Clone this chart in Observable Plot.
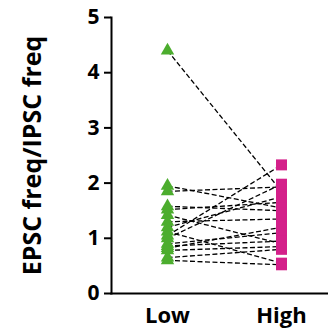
<!DOCTYPE html>
<html>
<head>
<meta charset="utf-8">
<script src="https://cdn.jsdelivr.net/npm/d3@7"></script>
<script src="https://cdn.jsdelivr.net/npm/@observablehq/plot@0.6"></script>
<style>
  html, body { margin: 0; padding: 0; background: #fff; }
  svg { display: block; }
</style>
</head>
<body>
<div id="chart"></div>
<script>
const categories = ["Low", "High"];
const lowValues  = [4.40, 1.95, 1.85, 1.58, 1.52, 1.42, 1.30, 1.20, 1.12, 1.05, 1.00, 0.90, 0.86, 0.82, 0.78, 0.65, 0.60];
const highValues = [1.85, 1.55, 1.93, 1.50, 1.65, 0.90, 1.35, 1.75, 0.55, 2.33, 1.98, 1.10, 0.95, 1.20, 0.85, 0.80, 0.52];
const yTicks = [0, 1, 2, 3, 4, 5];

const pairs = lowValues.map((v, i) => ({low: v, high: highValues[i]}));
const points = [
  ...lowValues.map(v => ({group: "Low", value: v})),
  ...highValues.map(v => ({group: "High", value: v}))
];

const font = "'Open Sans', 'DejaVu Sans', sans-serif";

const chart = Plot.plot({
  width: 328,
  height: 336,
  marginLeft: 111,
  marginRight: 0,
  marginTop: 17,
  marginBottom: 43,
  style: {fontFamily: font, color: "#000", background: "#fff"},
  x: {type: "point", domain: categories, range: [167, 281], padding: 0, label: null},
  y: {domain: [0, 5], label: null},
  marks: [
    Plot.link(pairs, {
      x1: () => "Low", x2: () => "High", y1: "low", y2: "high",
      stroke: "#000", strokeWidth: 1.3, strokeDasharray: "5,2.5"
    }),
    Plot.dot(points.filter(d => d.group === "Low"), {
      x: "group", y: "value", symbol: "triangle", r: 5,
      fill: "#4CAD2E", stroke: "none"
    }),
    Plot.dot(points.filter(d => d.group === "High"), {
      x: "group", y: "value", symbol: "square", r: 6.2,
      fill: "#D4208A", stroke: "none"
    }),
    Plot.axisY({
      ticks: yTicks, tickSize: 7, tickPadding: 5, tickFormat: d => d,
      fontSize: 21, fontWeight: "bold", strokeWidth: 2, label: null
    }),
    Plot.axisY({
      ticks: [], label: "EPSC freq/IPSC freq", labelAnchor: "center",
      labelArrow: "none", labelOffset: 88, fontSize: 25, fontWeight: "bold"
    }),
    Plot.axisX({
      tickSize: 0, tickPadding: 14, fontSize: 22, fontWeight: "bold", label: null
    }),
    Plot.frame({anchor: "left", stroke: "#000", strokeWidth: 2}),
    Plot.frame({anchor: "bottom", stroke: "#000", strokeWidth: 2})
  ]
});
document.getElementById("chart").appendChild(chart);
</script>
</body>
</html>
